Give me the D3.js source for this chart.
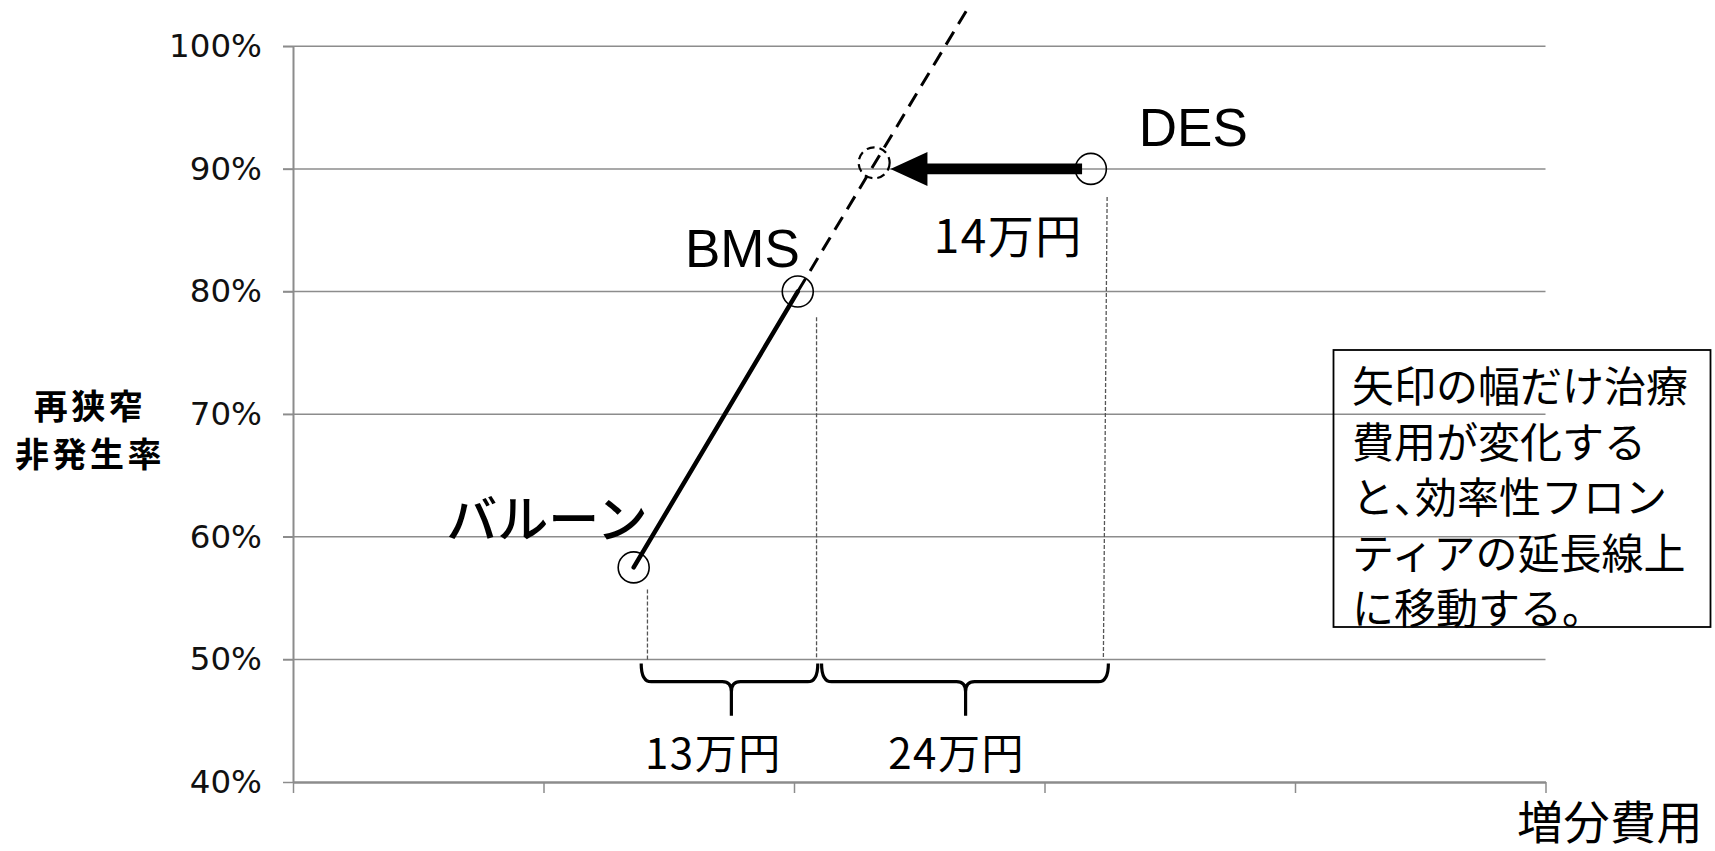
<!DOCTYPE html>
<html>
<head>
<meta charset="utf-8">
<script src="https://cdn.jsdelivr.net/npm/d3@7"></script>
<style>
  html, body { margin: 0; padding: 0; background: #fff; }
  svg { display: block; }
  .palt { font-feature-settings: "palt" 1; }
</style>
</head>
<body>
<svg id="chart" width="1715" height="851"></svg>
<script>
// ---- data ----
const yTicks = [40, 50, 60, 70, 80, 90, 100];
const xTicks = [0, 20, 40, 60, 80, 100];
const treatments = ["バルーン", "BMS", "DES"];
const cost = [27.2, 40.3, 63.7];            // incremental cost (万円)
const nonRestenosis = [57.5, 80, 90];       // 再狭窄非発生率 (%)
const shiftedCost = [46.4];                 // DES after shift (dashed circle)
const shiftedRate = [90.5];
const extensionCost = [40.3, 54.0];         // frontier extension (dashed)
const extensionRate = [80, 103.3];
const arrowCost = [63.0, 47.7];             // arrow from DES to shifted point
const arrowRate = [90, 90];
const dropCostTop = [28.3, 41.8, 65.0];     // vertical dotted guide lines
const dropRateTop = [55.7, 77.9, 87.7];
const dropCostBottom = [28.3, 41.8, 64.7];
const dropRateBottom = [50, 50, 50];
const braceFrom = [27.8, 42.2];
const braceTo = [41.9, 65.1];
const braceMid = [35.0, 53.7];
const braceLabels = ["13万円", "24万円"];
const shiftLabel = "14万円";
const yTitle = ["再狭窄", "非発生率"];
const xTitle = "増分費用";
const noteLines = ["矢印の幅だけ治療", "費用が変化する", "と、効率性フロン", "ティアの延長線上", "に移動する。"];

// ---- layout ----
const svg = d3.select("#chart");
const x = d3.scaleLinear().domain([0, 100]).range([293, 1545.5]);
const y = d3.scaleLinear().domain([40, 100]).range([782, 46.3]);
const jp = "'Noto Sans CJK JP', 'Noto Sans CJK SC', sans-serif";
const gridColor = "#8c8c8c";

// gridlines
svg.append("g").selectAll("line").data(yTicks.filter(d => d !== 40)).join("line")
  .attr("x1", x(0) - 10).attr("x2", x(100))
  .attr("y1", d => y(d)).attr("y2", d => y(d))
  .attr("stroke", gridColor).attr("stroke-width", 1.5);

// y axis
const yAxis = svg.append("g").attr("transform", `translate(${x(0)},0)`)
  .call(d3.axisLeft(y).tickValues(yTicks).tickSize(10).tickSizeOuter(0).tickPadding(21)
    .tickFormat(d => d + "%"));
yAxis.select(".domain").attr("stroke", gridColor).attr("stroke-width", 2);
yAxis.selectAll(".tick line").attr("stroke", gridColor).attr("stroke-width", 1.5);
yAxis.selectAll(".tick text").attr("font-family", "'DejaVu Sans', sans-serif")
  .attr("font-size", 32.5).attr("fill", "#111");

// x axis
const xAxis = svg.append("g").attr("transform", `translate(0,${y(40)})`)
  .call(d3.axisBottom(x).tickValues(xTicks).tickSize(11).tickSizeOuter(0).tickFormat(""));
xAxis.select(".domain").attr("stroke", gridColor).attr("stroke-width", 2.5);
xAxis.selectAll(".tick line").attr("stroke", gridColor).attr("stroke-width", 1.5);

// drop lines
svg.append("g").selectAll("line").data(dropCostTop).join("line")
  .attr("x1", (d, i) => x(d)).attr("y1", (d, i) => y(dropRateTop[i]))
  .attr("x2", (d, i) => x(dropCostBottom[i])).attr("y2", (d, i) => y(dropRateBottom[i]))
  .attr("stroke", "#555").attr("stroke-width", 1.3).attr("stroke-dasharray", "4,2");

// frontier extension (dashed)
svg.append("line")
  .attr("x1", x(extensionCost[0])).attr("y1", y(extensionRate[0]))
  .attr("x2", x(extensionCost[1])).attr("y2", y(extensionRate[1]))
  .attr("stroke", "#000").attr("stroke-width", 3).attr("stroke-dasharray", "15,9");

// frontier (solid) balloon -> BMS
svg.append("path")
  .datum(d3.range(2))
  .attr("d", d3.line().x(i => x(cost[i])).y(i => y(nonRestenosis[i])))
  .attr("stroke", "#000").attr("stroke-width", 4.5).attr("fill", "none").attr("stroke-linecap", "round");

// arrow
const ax0 = x(arrowCost[0]), ax1 = x(arrowCost[1]), ay = y(arrowRate[0]);
const headLen = 37, headHalf = 17, shaft = 5.4;
svg.append("path")
  .attr("d", `M${ax0},${ay - shaft} L${ax1 + headLen},${ay - shaft} L${ax1 + headLen},${ay - headHalf}
              L${ax1},${ay} L${ax1 + headLen},${ay + headHalf} L${ax1 + headLen},${ay + shaft} L${ax0},${ay + shaft} Z`)
  .attr("fill", "#000");

// markers
svg.append("g").selectAll("circle").data(cost).join("circle")
  .attr("cx", d => x(d)).attr("cy", (d, i) => y(nonRestenosis[i])).attr("r", 15.5)
  .attr("fill", "none").attr("stroke", "#000").attr("stroke-width", 1.6);
svg.append("g").selectAll("circle").data(shiftedCost).join("circle")
  .attr("cx", d => x(d)).attr("cy", (d, i) => y(shiftedRate[i])).attr("r", 15.5)
  .attr("fill", "none").attr("stroke", "#000").attr("stroke-width", 2.2).attr("stroke-dasharray", "8,5");

// point labels
svg.append("text").text(treatments[0])
  .attr("x", x(cost[0]) + 14).attr("y", y(nonRestenosis[0]) - 51)
  .attr("text-anchor", "end").attr("dominant-baseline", "central")
  .attr("font-family", jp).attr("font-size", 51).attr("font-weight", 500);
svg.append("text").text(treatments[1])
  .attr("x", x(cost[1]) + 2).attr("y", y(nonRestenosis[1]) - 24.5)
  .attr("text-anchor", "end")
  .attr("font-family", "'Liberation Sans', Arial, sans-serif").attr("font-size", 53);
svg.append("text").text(treatments[2])
  .attr("x", x(cost[2]) + 48).attr("y", y(nonRestenosis[2]) - 22.5)
  .attr("font-family", "'Liberation Sans', Arial, sans-serif").attr("font-size", 53);

// shift label
svg.append("text").text(shiftLabel)
  .attr("x", (x(arrowCost[0]) + x(arrowCost[1])) / 2 + 22).attr("y", y(arrowRate[0]) + 64)
  .attr("text-anchor", "middle").attr("dominant-baseline", "central")
  .attr("font-family", jp).attr("font-size", 46).attr("letter-spacing", 1.5);

// braces
const braceTop = y(49.67), braceH = y(48.18), braceBottom = y(45.4);
svg.append("g").selectAll("path").data(braceFrom).join("path")
  .attr("d", (d, i) => {
    const x0 = x(d), x1 = x(braceTo[i]), xm = x(braceMid[i]);
    return `M${x0},${braceTop} Q${x0},${braceH} ${x0 + 10},${braceH} L${xm - 9},${braceH}
            Q${xm},${braceH} ${xm},${braceH + 10} L${xm},${braceBottom}
            M${xm},${braceH + 10} Q${xm},${braceH} ${xm + 9},${braceH} L${x1 - 10},${braceH}
            Q${x1},${braceH} ${x1},${braceTop}`;
  })
  .attr("fill", "none").attr("stroke", "#000").attr("stroke-width", 3.2);
svg.append("g").selectAll("text").data(braceLabels).join("text")
  .text(d => d)
  .attr("x", (d, i) => x(braceMid[i]) + (i === 0 ? -18 : -9)).attr("y", y(44.7) + 26)
  .attr("text-anchor", "middle").attr("dominant-baseline", "central")
  .attr("font-family", jp).attr("font-size", 42).attr("letter-spacing", 1.5);

// axis titles
svg.append("g").selectAll("text").data(yTitle).join("text")
  .text(d => d)
  .attr("x", 90).attr("y", (d, i) => 404 + i * 48)
  .attr("text-anchor", "middle").attr("dominant-baseline", "central")
  .attr("font-family", jp).attr("font-size", 34).attr("font-weight", 700).attr("letter-spacing", 3.5);
svg.append("text").text(xTitle)
  .attr("x", 1703).attr("y", 819)
  .attr("text-anchor", "end").attr("dominant-baseline", "central")
  .attr("font-family", jp).attr("font-size", 46).attr("letter-spacing", 0.5);

// note box
svg.append("rect").attr("x", 1333.5).attr("y", 350).attr("width", 377).attr("height", 277)
  .attr("fill", "none").attr("stroke", "#000").attr("stroke-width", 1.8);
const note = svg.append("g").selectAll("text").data(noteLines).join("text")
  .attr("x", 1352).attr("y", (d, i) => 383 + i * 55.5)
  .attr("dominant-baseline", "central")
  .attr("font-family", jp).attr("font-size", 42);
// proportional width only for the ideographic comma (as in the reference's proportional font)
note.each(function(d) {
  const t = d3.select(this);
  d.split(/(、)/).filter(s => s.length).forEach(s => {
    const ts = t.append("tspan").text(s);
    if (s === "、") ts.attr("class", "palt");
  });
});
</script>
</body>
</html>
